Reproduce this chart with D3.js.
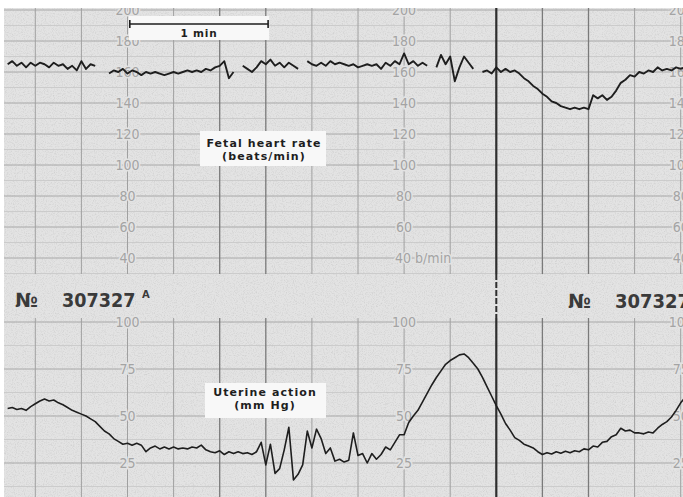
<!DOCTYPE html>
<html><head><meta charset="utf-8">
<script src="https://cdn.jsdelivr.net/npm/d3@7"></script>
<style>html,body{margin:0;padding:0;background:#fff}svg{display:block}</style>
</head><body>
<svg id="c" width="683" height="497"></svg>
<script>
// ---- data (seconds from first grid line; one sample every 2 s) ----
const sampleStart = -12;
const sampleStep = 2;
const fhrBpm = [165,167,164,166,163,166,164,166,165,163,166,164,165,162,164,161,167,162,165,164,
  null,null,
  159,161,160,162,159,161,160,158,160,159,160,159,158,159,160,159,160,161,160,161,160,162,161,163,164,167,156,160,
  null,
  164,162,160,163,167,165,168,164,166,163,166,164,162,
  null,
  167,165,164,166,164,167,165,166,165,164,165,163,164,165,164,165,162,166,164,167,165,172,165,167,164,166,164,
  null,
  163,171,165,170,154,163,170,166,162,
  null,
  160,161,159,163,160,162,160,161,159,156,154,151,149,146,144,141,140,138,137,136,137,136,137,136,
  145,143,145,142,144,148,153,155,158,157,160,159,161,160,163,161,162,161,163,162,163];
const uterineMmHg = [54,54.5,53.5,54,53,55,56.5,58,59,58,58.5,57,56,54.5,53,52,51,50,48.5,47,
  44.5,42,40.5,38,36.5,35,35.5,34.5,35.5,34.5,31,33,34,32.5,33.5,32.5,33.5,32.5,33,32.5,
  33.5,33,34.5,32,31,30.5,31.5,29.5,31,30,31,30,30.5,29.5,31,36,24,35,19.5,22,
  32,44,16,19,24,42,33,43,38,30,33,26,27,25.5,26.5,41,29,30,25,30,
  27,29.5,33.5,32,36,40,40,46.5,50,53,57.5,62,66.5,70.5,74,77.5,79.5,81,82.5,83,
  81,78,75,70.5,65.5,60.5,55.5,51,46,42.5,38.5,37,35,34,33,31,29.5,30.5,29.8,31,
  30.2,31.2,30.4,31.5,31,32.5,32,34,33.5,36,36.5,39,40,43.5,42,42.5,41,41,40.5,41.5,
  41,43.5,45.5,47,49.5,53,57,60];
const fhrTicks = [200,180,160,140,120,100,80,60,40];
const uterineTicks = [100,75,50,25];
const scaleTimes = [40,160,280];          // where the paper prints its scale
const gridTimes = [0,20,40,60,80,100,120,140,160,180,200,220,240,260,280];
const minuteBar = [41,101];
const chartNumber = "307327";

// ---- layout ----
const W = 683, H = 497;
const svg = d3.select("#c");
const x = d3.scaleLinear().domain([0,280]).range([35.3,680.7]);
const yF = d3.scaleLinear().domain([40,200]).range([258,10]);
const yU = d3.scaleLinear().domain([25,100]).range([463,322]);
const paper = "#e3e3e3";

const defs = svg.append("defs");
defs.append("clipPath").attr("id","pp").append("rect").attr("x",4).attr("y",8).attr("width",W).attr("height",H);
const f = defs.append("filter").attr("id","grain").attr("x",0).attr("y",0).attr("width","100%").attr("height","100%");
f.append("feTurbulence").attr("type","fractalNoise").attr("baseFrequency",0.9).attr("numOctaves",2).attr("seed",4);
f.append("feColorMatrix").attr("type","matrix")
  .attr("values","0 0 0 0 0.45  0 0 0 0 0.45  0 0 0 0 0.45  2.2 0 0 0 -1.0");

svg.append("rect").attr("width",W).attr("height",H).attr("fill","#fff");
const g = svg.append("g").attr("clip-path","url(#pp)");
g.append("rect").attr("x",4).attr("y",8).attr("width",W).attr("height",H).attr("fill",paper);
g.append("rect").attr("x",4).attr("y",8).attr("width",W).attr("height",H).attr("filter","url(#grain)").attr("opacity",0.4);

// horizontal grid
const fhrMinor = d3.range(30,201,10), utMinor = d3.range(0,101,12.5);
g.append("g").selectAll("line").data(fhrMinor).join("line")
  .attr("x1",4).attr("x2",W).attr("y1",d=>yF(d)).attr("y2",d=>yF(d))
  .attr("stroke",d=>d%20===0?"#a8a8a8":"#c6c6c6").attr("stroke-width",d=>d%20===0?1:0.8);
g.append("g").selectAll("line").data(utMinor).join("line")
  .attr("x1",4).attr("x2",W).attr("y1",d=>yU(d)).attr("y2",d=>yU(d))
  .attr("stroke",d=>d%25===0?"#a8a8a8":"#c6c6c6").attr("stroke-width",d=>d%25===0?1:0.8);

// vertical grid
const vStroke = t => t===200?"#2e2e2e":([80,100,220,240].includes(t)?"#7a7a7a":"#a0a0a0");
const vWidth = t => t===200?2.2:([80,100,220,240].includes(t)?1.3:1);
[[8,274],[318,H]].forEach(([a,b])=>{
  g.append("g").selectAll("line").data(gridTimes).join("line")
    .attr("x1",d=>x(d)).attr("x2",d=>x(d)).attr("y1",a).attr("y2",b)
    .attr("stroke",vStroke).attr("stroke-width",vWidth);
});
g.append("line").attr("x1",x(200)).attr("x2",x(200)).attr("y1",274).attr("y2",318)
  .attr("stroke","#2e2e2e").attr("stroke-width",2).attr("stroke-dasharray","6,2");

// printed scale labels (axes)
const lblFont = "'Liberation Sans Narrow','DejaVu Sans Condensed','Liberation Sans',sans-serif";
function scaleLabels(axis, t, special){
  const a = g.append("g").attr("transform",`translate(${x(t)},0)`).call(axis);
  a.select(".domain").remove();
  a.selectAll("text").attr("x",0).attr("dx",0).attr("text-anchor","middle")
    .attr("fill","#a4a4a4").attr("stroke",paper).attr("stroke-width",3).attr("paint-order","stroke")
    .style("font-family",lblFont).style("font-size","14px");
  if (special) special(a);
}
scaleTimes.forEach(t=>{
  scaleLabels(d3.axisRight(yF).tickValues(fhrTicks).tickSize(0)
    .tickFormat(d=> (t===160 && d===40) ? "40 b/min" : d), t,
    a=>{ if(t===160) a.selectAll("text").filter(d=>d===40).attr("text-anchor","start").attr("x",-9); });
  scaleLabels(d3.axisRight(yU).tickValues(uterineTicks).tickSize(0), t);
});

// traces
const tAt = i => sampleStart + i*sampleStep;
const fhrLine = d3.line().defined(d=>d!==null).x((d,i)=>x(tAt(i))).y(d=>yF(d));
const utLine = d3.line().x((d,i)=>x(tAt(i))).y(d=>yU(d));
g.append("path").datum(fhrBpm).attr("d",fhrLine).attr("fill","none")
  .attr("stroke","#1e1e1e").attr("stroke-width",1.9).attr("stroke-linejoin","round");
g.append("path").datum(uterineMmHg).attr("d",utLine).attr("fill","none")
  .attr("stroke","#1e1e1e").attr("stroke-width",1.6).attr("stroke-linejoin","round");

// 1 min bar
const lab = "'DejaVu Sans',sans-serif";
g.append("rect").attr("x",x(minuteBar[0])-1).attr("y",16).attr("width",x(minuteBar[1])-x(minuteBar[0])+2).attr("height",24).attr("fill","#f8f8f8");
const bar = g.append("g").attr("stroke","#1e1e1e").attr("stroke-width",1.6);
bar.append("line").attr("x1",x(minuteBar[0])).attr("x2",x(minuteBar[1])).attr("y1",24).attr("y2",24);
minuteBar.forEach(t=>bar.append("line").attr("x1",x(t)).attr("x2",x(t)).attr("y1",20).attr("y2",28));
g.append("text").attr("x",(x(minuteBar[0])+x(minuteBar[1]))/2).attr("y",37).attr("text-anchor","middle")
  .style("font-family",lab).style("font-weight",700).style("font-size","10.5px").style("letter-spacing","0.8px")
  .attr("fill","#1e1e1e").text("1 min");

// boxed titles
function boxTitle(bx,by,bw,bh,cx,l1,l2,b1,b2){
  g.append("rect").attr("x",bx).attr("y",by).attr("width",bw).attr("height",bh).attr("fill","#f8f8f8");
  [[l1,b1],[l2,b2]].forEach(([s,b])=>
    g.append("text").attr("x",cx).attr("y",b).attr("text-anchor","middle").style("font-family",lab)
      .style("font-weight",700).style("font-size","11px").style("letter-spacing","1.1px")
      .attr("fill","#1e1e1e").text(s));
}
boxTitle(200,131,126,35,264,"Fetal heart rate","(beats/min)",146.5,159.5);
boxTitle(205,383,121,35,265,"Uterine action","(mm Hg)",395.5,408.5);

// chart numbers
const numFont = "'DejaVu Sans',sans-serif";
function num(xp,yp,s,size,sx){
  g.append("text").attr("transform",`translate(${xp},${yp}) scale(${sx},1)`)
    .style("font-family",numFont).style("font-weight",700)
    .style("font-size",size).attr("fill","#3a3a3a").text(s);
}
num(15,307,"№","20px",0.95); num(62,307,chartNumber,"20px",0.88); num(142,298,"A","10px",1);
num(568,308,"№","20px",0.95); num(615,308,chartNumber,"20px",0.9);
</script>
</body></html>
